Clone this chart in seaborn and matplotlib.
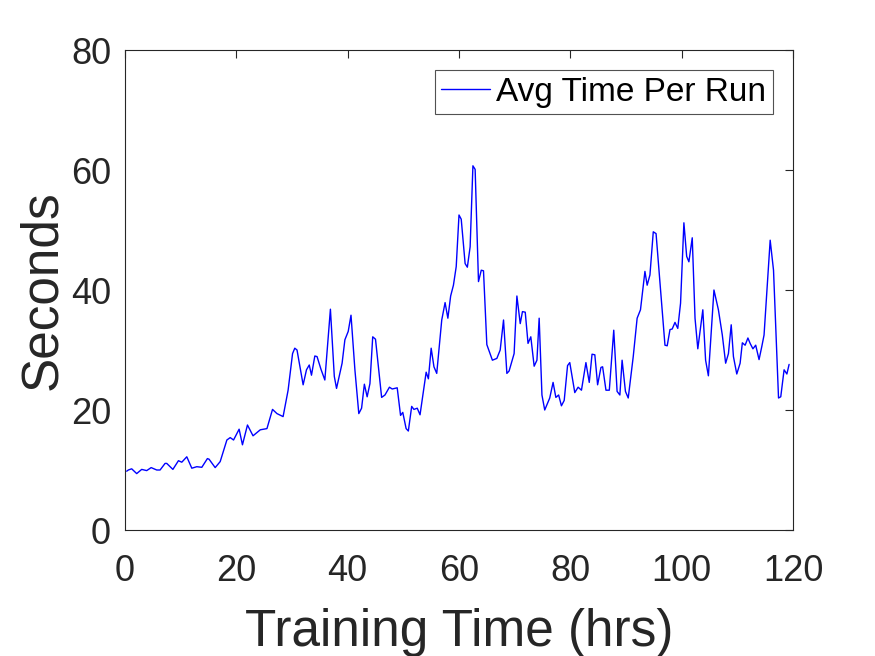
import matplotlib
matplotlib.use("Agg")
import matplotlib.pyplot as plt
import seaborn as sns
import pandas as pd

# values
hours = [0.3, 0.6, 1.2, 2.1, 3.0, 3.9, 4.7, 5.7, 6.3, 7.2, 7.5, 8.6, 9.6, 10.2, 11.1, 12.0,
         12.9, 13.8, 14.8, 15.1, 16.2, 17.1, 18.3, 18.9, 19.5, 20.5, 21.1, 22.0, 23.0, 24.3,
         25.5, 26.5, 27.3, 28.4, 29.3, 30.1, 30.5, 30.9, 32.0, 32.6, 33.1, 33.5, 34.1, 34.5,
         35.2, 35.9, 36.9, 37.6, 38.0, 39.0, 39.5, 40.1, 40.6, 41.3, 42.0, 42.5, 43.0, 43.5,
         44.0, 44.5, 45.0, 46.1, 46.7, 47.5, 48.0, 48.9, 49.5, 49.9, 50.5, 50.9, 51.5, 51.9,
         52.5, 53.0, 54.1, 54.5, 55.0, 55.5, 56.0, 56.9, 57.5, 58.0, 58.5, 59.0, 59.5, 60.0,
         60.4, 61.1, 61.5, 62.0, 62.5, 62.9, 63.5, 64.0, 64.4, 65.0, 66.0, 66.8, 67.4, 68.0,
         68.6, 69.0, 69.9, 70.4, 71.0, 71.4, 71.9, 72.4, 72.9, 73.5, 74.0, 74.4, 74.9, 75.4,
         76.3, 76.9, 77.4, 77.9, 78.4, 78.9, 79.5, 79.9, 80.8, 81.4, 82.0, 82.8, 83.4, 83.9,
         84.4, 84.9, 85.5, 85.8, 86.4, 87.0, 87.8, 88.4, 88.9, 89.3, 89.9, 90.4, 91.3, 92.0,
         92.6, 93.4, 93.8, 94.3, 94.9, 95.4, 96.4, 97.0, 97.4, 97.9, 98.3, 98.8, 99.3, 99.8,
         100.4, 100.9, 101.3, 101.9, 102.4, 102.9, 103.8, 104.3, 104.8, 105.8, 106.6, 107.3,
         107.9, 108.4, 108.9, 109.3, 109.9, 110.5, 110.9, 111.4, 111.9, 112.3, 112.8, 113.3,
         113.9, 114.4, 114.8, 115.9, 116.5, 117.4, 117.8, 118.4, 118.9, 119.3]
seconds = [9.8, 10.0, 10.2, 9.4, 10.1, 9.9, 10.4, 10.0, 10.0, 11.1, 11.1, 10.1, 11.55, 11.3, 12.2, 10.3,
           10.55, 10.45, 11.9, 11.8, 10.4, 11.4, 15.0, 15.4, 15.0, 16.8, 14.2, 17.5, 15.7, 16.7,
           16.9, 20.1, 19.4, 18.9, 23.3, 29.4, 30.3, 30.0, 24.2, 26.7, 27.5, 25.8, 29.0, 28.9,
           26.8, 25.0, 36.8, 25.6, 23.6, 27.8, 31.7, 33.1, 35.8, 26.7, 19.4, 20.3, 24.3, 22.2,
           24.4, 32.2, 31.8, 22.1, 22.5, 23.8, 23.5, 23.7, 19.1, 19.6, 16.9, 16.5, 20.6, 20.1,
           20.3, 19.2, 26.3, 25.2, 30.3, 27.2, 26.1, 35.0, 37.9, 35.3, 39.0, 40.8, 43.9, 52.5,
           51.8, 44.4, 43.8, 47.2, 60.7, 60.1, 41.4, 43.3, 43.2, 30.9, 28.3, 28.6, 30.0, 35.0,
           26.1, 26.5, 29.4, 39.0, 34.4, 36.4, 36.3, 31.1, 32.2, 27.3, 28.3, 35.3, 22.5, 20.0,
           22.0, 24.6, 22.1, 22.5, 20.7, 21.6, 27.4, 27.9, 22.9, 23.8, 23.3, 27.9, 24.6, 29.3,
           29.2, 24.2, 27.1, 27.2, 23.3, 23.3, 33.3, 23.1, 22.5, 28.3, 23.1, 22.0, 28.9, 35.3,
           36.7, 43.1, 40.8, 42.5, 49.7, 49.4, 37.8, 30.8, 30.7, 33.4, 33.5, 34.6, 33.6, 37.8,
           51.2, 45.6, 44.7, 48.7, 35.3, 30.2, 36.7, 28.3, 25.7, 40.0, 36.7, 32.5,
           27.8, 29.4, 34.2, 28.9, 26.0, 27.8, 31.2, 30.8, 32.0, 31.1, 30.2, 30.8,
           28.4, 30.6, 32.5, 48.3, 43.3, 22.0, 22.2, 26.7, 26.0, 27.6]
xticks = [0, 20, 40, 60, 80, 100, 120]
yticks = [0, 20, 40, 60, 80]

df = pd.DataFrame({"hrs": hours, "sec": seconds})

sns.set_theme(style="white")
plt.rcParams["font.family"] = ["Liberation Sans", "DejaVu Sans"]

fig = plt.figure(figsize=(8.75, 6.56), dpi=100)
ax = fig.add_axes([125 / 875, 1 - 530 / 656, 668 / 875, 480 / 656])

sns.lineplot(data=df, x="hrs", y="sec", ax=ax, color="#0000ff", lw=1.0,
             sort=False, label="Avg Time Per Run")

ax.set_xlim(0, 120)
ax.set_ylim(0, 80)
ax.set_xticks(xticks)
ax.set_yticks(yticks)
ax.tick_params(direction="in", length=6, width=0.8, top=True, right=True,
               labelsize=26, colors="#262626")
ax.tick_params(axis="x", pad=17)
ax.tick_params(axis="y", pad=10)
for s in ax.spines.values():
    s.set_color("#262626")
    s.set_linewidth(0.8)

ax.set_xlabel("Training Time (hrs)", fontsize=37, color="#262626", labelpad=14)
ax.set_ylabel("Seconds", fontsize=37, color="#262626", labelpad=3)

leg = ax.legend(loc="upper right", fontsize=24, frameon=True, fancybox=False,
                borderaxespad=0.6, borderpad=0.2, handlelength=1.45, handletextpad=0.2)
leg.get_frame().set_edgecolor("#262626")
leg.get_frame().set_linewidth(0.8)
for t in leg.get_texts():
    t.set_color("black")

plt.savefig("out.png", dpi=100)
plt.close()
